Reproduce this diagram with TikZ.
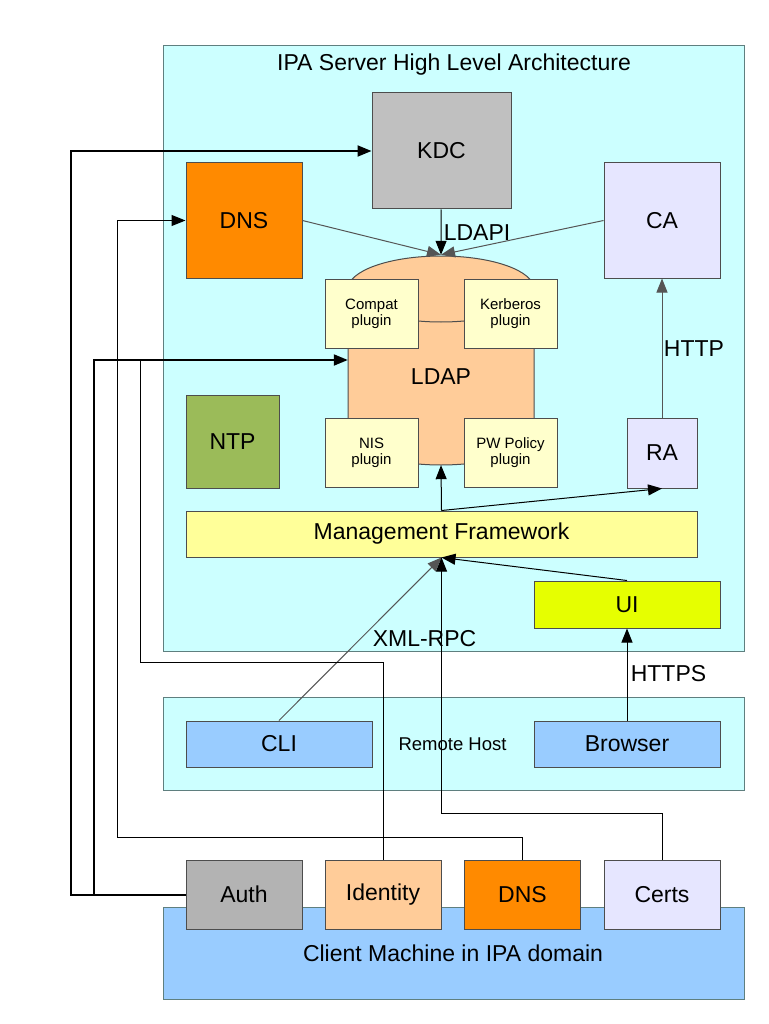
\documentclass[tikz,border=0pt]{standalone}
\usepackage{fontspec}
\setmainfont{Liberation Sans}
\usetikzlibrary{arrows.meta}
\definecolor{serverfill}{HTML}{CCFFFF}
\definecolor{frameline}{HTML}{5F7F7F}
\definecolor{boxline}{HTML}{4D4D4D}
\definecolor{edgegray}{HTML}{555555}
\definecolor{clientfill}{HTML}{99CCFF}
\definecolor{kdcfill}{HTML}{C0C0C0}
\definecolor{authfill}{HTML}{B3B3B3}
\definecolor{dnsfill}{HTML}{FF8A00}
\definecolor{cafill}{HTML}{E6E6FF}
\definecolor{ntpfill}{HTML}{9BBB59}
\definecolor{ldapfill}{HTML}{FFCC99}
\definecolor{pluginfill}{HTML}{FFFFCC}
\definecolor{mgmtfill}{HTML}{FFFF99}
\definecolor{uifill}{HTML}{E6FF00}
\begin{document}
\begin{tikzpicture}[x=1pt,y=-1pt]
	\tikzstyle{box_style} = [draw=boxline,line width=1pt,inner sep=0pt,align=center,font=\fontsize{23}{27}\selectfont]
	\tikzstyle{frame_style} = [box_style,draw=frameline,minimum width=581pt]
	\tikzstyle{plugin_style} = [box_style,fill=pluginfill,minimum width=93pt,minimum height=69pt,font=\fontsize{15}{16}\selectfont]
	\tikzstyle{label_style} = [inner sep=0pt,font=\fontsize{23}{27}\selectfont]
	\tikzstyle{edge_style} = [draw=edgegray,line width=1pt,-{Triangle[length=14pt,width=11pt]}]
	\tikzstyle{line_style} = [draw=black,line width=1pt]
	\tikzstyle{bus_style} = [draw=black,line width=2pt,-{Triangle[length=14pt,width=11pt]}]
	\useasboundingbox (0,0) rectangle (768,1024);
	% frames
	\node[frame_style,fill=serverfill,minimum height=605pt] (server) at (453.5,348.5) {};
	\node[frame_style,fill=serverfill,minimum height=93pt] (remote) at (453.5,743.5) {};
	\node[frame_style,fill=clientfill,minimum height=92pt] (client) at (453.5,953) {};
	\node[label_style] (server_title) at (454,65) {IPA Server High Level Architecture};
	\node[label_style,font=\fontsize{18.5}{22}\selectfont] (remote_title) at (452.5,744) {Remote Host};
	\node[label_style] (client_title) at (453,953) {Client Machine in IPA domain};
	% server
	\node[box_style,fill=kdcfill,minimum width=139pt,minimum height=116pt] (kdc) at (441.5,151) {KDC};
	\node[box_style,fill=dnsfill,minimum width=116pt,minimum height=115pt] (dns) at (244,220.5) {DNS};
	\node[box_style,fill=cafill,minimum width=116pt,minimum height=115pt] (ca) at (662,220.5) {CA};
	\node[box_style,fill=ntpfill,minimum width=93pt,minimum height=93pt] (ntp) at (232.5,441.5) {NTP};
	\draw[boxline,line width=1pt,fill=ldapfill] (348,289) -- (348,432) arc[start angle=180,end angle=360,x radius=93pt,y radius=33pt] -- (534,289) arc[start angle=0,end angle=180,x radius=93pt,y radius=33pt] -- cycle;
	\draw[boxline,line width=1pt] (348,289) arc[start angle=180,end angle=360,x radius=93pt,y radius=33pt];
	\node[minimum width=186pt,minimum height=210pt,inner sep=0pt] (ldap) at (441,360) {};
	\node[label_style] (ldap_label) at (441,377) {LDAP};
	\node[plugin_style] (compat) at (371.5,313.5) {Compat\\plugin};
	\node[plugin_style] (kerberos) at (510.5,313.5) {Kerberos\\plugin};
	\node[plugin_style] (nis) at (371.5,452.5) {NIS\\plugin};
	\node[plugin_style] (pwpolicy) at (510.5,452.5) {PW Policy\\plugin};
	\node[box_style,fill=cafill,minimum width=70pt,minimum height=70pt] (ra) at (662,453) {RA};
	\node[box_style,fill=mgmtfill,minimum width=511pt,minimum height=46pt] (mgmt) at (441.5,534) {Management Framework};
	\node[box_style,fill=uifill,minimum width=186pt,minimum height=47pt] (ui) at (627,604.5) {UI};
	% remote host
	\node[box_style,fill=clientfill,minimum width=186pt,minimum height=46pt] (cli) at (279,744) {CLI};
	\node[box_style,fill=clientfill,minimum width=186pt,minimum height=46pt] (browser) at (627,744) {Browser};
	% client machine
	\node[box_style,fill=authfill,minimum width=116pt,minimum height=69pt] (auth) at (244,894.5) {Auth};
	\node[box_style,fill=ldapfill,minimum width=116pt,minimum height=69pt] (identity) at (383,894.5) {Identity};
	\node[box_style,fill=dnsfill,minimum width=116pt,minimum height=69pt] (client_dns) at (522.5,894.5) {DNS};
	\node[box_style,fill=cafill,minimum width=116pt,minimum height=69pt] (certs) at (662,894.5) {Certs};
	% edge labels
	\node[label_style] (ldapi_label) at (477,233) {LDAPI};
	\node[label_style] (http_label) at (694,349) {HTTP};
	\node[label_style] (xmlrpc_label) at (424.5,639) {XML-RPC};
	\node[label_style] (https_label) at (668.5,674) {HTTPS};
	% bends
	\coordinate (kdc_bend) at (71,894.5);
	\coordinate (ldap_bend) at (94,894.5);
	\coordinate (identity_bend) at (140,662);
	\coordinate (identity_join) at (140,360);
	\coordinate (dns_bend) at (117,837);
	\coordinate (certs_bend) at (441.5,813);
	% connectors
	\draw[edge_style,draw=black] (kdc) -- (ldap.north);
	\draw[edge_style] (dns.east) -- (ldap.north);
	\draw[edge_style] (ca.west) -- (ldap.north);
	\draw[edge_style] (ra) -- (ca);
	\draw[edge_style,draw=black] (mgmt.north) -- (ldap.south);
	\draw[edge_style,draw=black] (mgmt.north) -- (ra.south);
	\draw[edge_style] (cli.north) -- (mgmt.south);
	\draw[edge_style,draw=black] (ui.north) -- (mgmt.south);
	\draw[edge_style,draw=black] (browser) -- (ui);
	\draw[bus_style] (auth.west) -- (kdc_bend) |- (kdc.west);
	\draw[bus_style] (auth.west) -- (ldap_bend) |- (ldap.west);
	\draw[line_style] (identity.north) |- (identity_bend) -- (identity_join);
	\draw[edge_style,draw=black] (client_dns.north) |- (dns_bend) |- (dns.west);
	\draw[edge_style,draw=black] (certs.north) |- (certs_bend) -- (mgmt.south);
\end{tikzpicture}
\end{document}
